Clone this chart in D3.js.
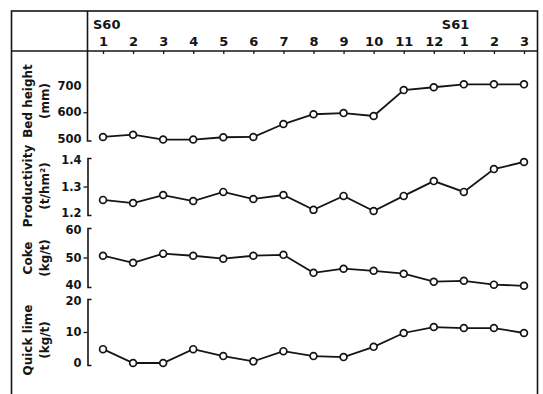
<!DOCTYPE html>
<html>
<head>
<meta charset="utf-8">
<script src="https://cdn.jsdelivr.net/npm/d3@7"></script>
<style>
  body { margin: 0; background: #fff; }
  svg text { font-family: "DejaVu Sans", sans-serif; font-weight: bold; fill: #151515; }
</style>
</head>
<body>
<svg id="chart" width="543" height="394"></svg>
<script>
// months Apr S60 .. Mar S61 (as printed)
const months = ['1', '2', '3', '4', '5', '6', '7', '8', '9', '10', '11', '12', '1', '2', '3'];
const years = ['S60', 'S61'];
const yearStartIndex = [0, 12];

const bedHeight = [514, 522, 505, 505, 513, 514, 559, 593, 597, 587, 677, 687, 697, 697, 697];
const productivity = [1.253, 1.242, 1.27, 1.249, 1.281, 1.256, 1.27, 1.218, 1.267, 1.214, 1.267, 1.319, 1.281, 1.361, 1.386];
const coke = [50.6, 48.2, 51.3, 50.6, 49.6, 50.6, 50.9, 44.8, 46.2, 45.5, 44.5, 41.8, 42.1, 40.8, 40.4];
const quickLime = [4.8, 0.6, 0.6, 4.8, 2.7, 1.1, 4.2, 2.7, 2.4, 5.5, 9.7, 11.5, 11.2, 11.2, 9.7];

const bedTicks = [500, 600, 700];
const prodTicks = [1.2, 1.3, 1.4];
const cokeTicks = [40, 50, 60];
const limeTicks = [0, 10, 20];

const titles = ['Bed height', 'Productivity', 'Coke', 'Quick lime'];
const units = ['(mm)', '(t/hm\u00b2)', '(kg/t)', '(kg/t)'];

// layout
const frameLeft = 11.5, frameRight = 537.5, frameTop = 11, headerY = 51, axisX = 87.5;
const ink = '#151515';

const svg = d3.select('#chart');

const x = d3.scalePoint()
  .domain(d3.range(months.length))
  .range([103, 524]);

// panels: pixel extents are layout, values come from the arrays above
const panels = [
  { values: bedHeight, ticks: bedTicks, fmt: d3.format('d'), top: 83.5, bottom: 141, titleY: 101 },
  { values: productivity, ticks: prodTicks, fmt: d3.format('.1f'), top: 158, bottom: 215, titleY: 186 },
  { values: coke, ticks: cokeTicks, fmt: d3.format('d'), top: 228, bottom: 287, titleY: 258 },
  { values: quickLime, ticks: limeTicks, fmt: d3.format('d'), top: 299, bottom: 365, titleY: 340 }
];

// frame and header
svg.append('rect')
  .attr('x', frameLeft).attr('y', frameTop)
  .attr('width', frameRight - frameLeft).attr('height', 420)
  .attr('fill', 'none').attr('stroke', ink).attr('stroke-width', 1.6);

svg.append('line')
  .attr('x1', frameLeft).attr('x2', frameRight)
  .attr('y1', headerY).attr('y2', headerY)
  .attr('stroke', ink).attr('stroke-width', 1.6);

svg.append('line')
  .attr('x1', axisX).attr('x2', axisX)
  .attr('y1', frameTop).attr('y2', headerY)
  .attr('stroke', ink).attr('stroke-width', 1.6);

// month axis hanging under the header line
const topAxis = svg.append('g')
  .attr('transform', `translate(0,${headerY})`)
  .call(d3.axisBottom(x).tickSize(3).tickFormat(i => months[i]));
topAxis.select('.domain').remove();
topAxis.selectAll('.tick line').attr('stroke', ink).attr('stroke-width', 1.3);
topAxis.selectAll('.tick text')
  .attr('y', -5).attr('dy', 0)
  .style('font-size', '13px');

svg.selectAll('.year')
  .data(years)
  .enter()
  .append('text')
  .attr('class', 'year')
  .attr('x', (d, i) => x(yearStartIndex[i]) - (i === 0 ? 10 : 22))
  .attr('y', 29)
  .style('font-size', '13px')
  .text(d => d);

panels.forEach((p, k) => {
  const y = d3.scaleLinear()
    .domain([p.ticks[0], p.ticks[p.ticks.length - 1]])
    .range([p.bottom, p.top]);

  const g = svg.append('g').attr('transform', `translate(${axisX},0)`);
  g.call(d3.axisLeft(y).tickValues(p.ticks).tickFormat(p.fmt).tickSizeInner(4).tickSizeOuter(-4).tickPadding(2));
  g.select('.domain').attr('stroke', ink).attr('stroke-width', 1.6);
  g.selectAll('.tick line').attr('stroke', ink).attr('stroke-width', 1.3);
  g.selectAll('.tick text').style('font-size', '11.5px').attr('fill', ink);
  // end ticks are drawn by the bracket, not leftwards
  g.selectAll('.tick line').filter((d, i) => i === 0 || i === p.ticks.length - 1).remove();
  // keep the end labels of neighbouring panels apart
  g.selectAll('.tick text')
    .filter((d, i) => i === 0)
    .attr('dy', '0.12em');
  g.selectAll('.tick text')
    .filter((d, i) => i === p.ticks.length - 1)
    .attr('dy', '0.48em');

  if (k === 0) {
    // first axis continues the header divider
    g.select('.domain').attr('d', `M0,${headerY}V${p.bottom}H4`);
  }

  // rotated titles
  svg.append('text')
    .attr('transform', `translate(32,${p.titleY}) rotate(-90)`)
    .attr('text-anchor', 'middle')
    .style('font-size', '12px')
    .text(titles[k]);
  svg.append('text')
    .attr('transform', `translate(49,${p.titleY}) rotate(-90)`)
    .attr('text-anchor', 'middle')
    .style('font-size', '12px')
    .text(units[k]);

  const line = d3.line()
    .x((d, i) => x(i))
    .y(d => y(d));

  svg.append('path')
    .datum(p.values)
    .attr('d', line)
    .attr('fill', 'none')
    .attr('stroke', ink)
    .attr('stroke-width', 1.8);

  svg.selectAll(null)
    .data(p.values)
    .enter()
    .append('circle')
    .attr('cx', (d, i) => x(i))
    .attr('cy', d => y(d))
    .attr('r', 3.4)
    .attr('fill', '#fff')
    .attr('stroke', ink)
    .attr('stroke-width', 1.7);
});
</script>
</body>
</html>
